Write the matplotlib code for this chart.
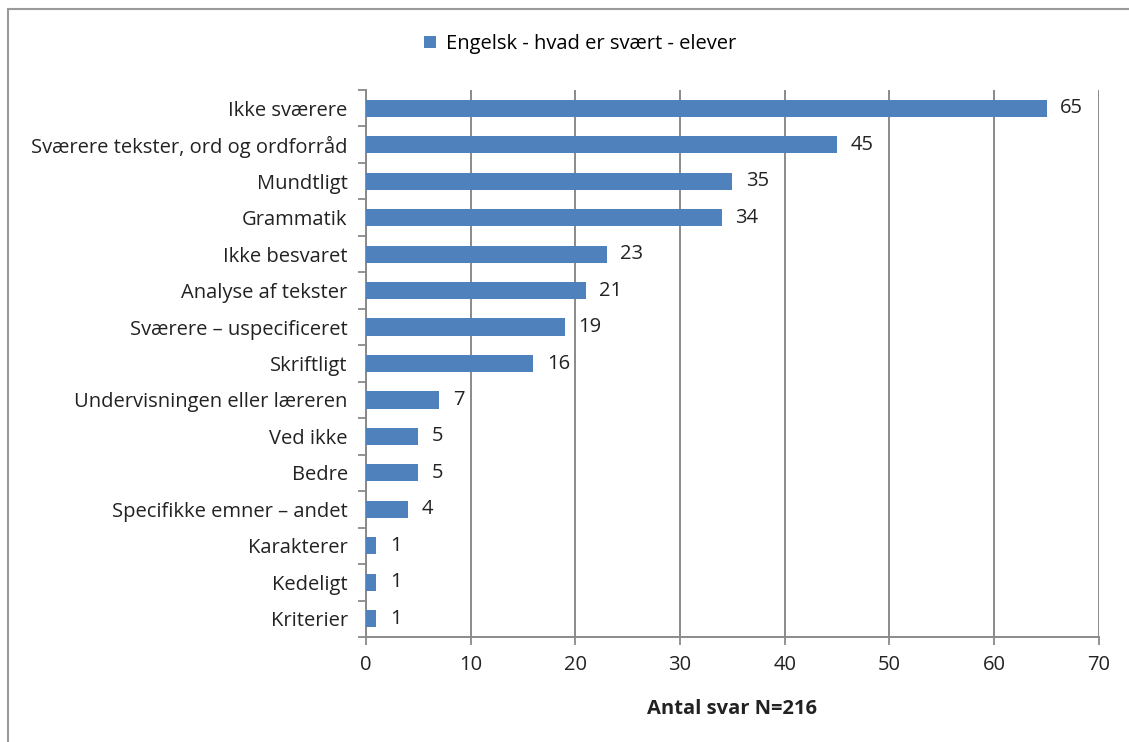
import matplotlib.pyplot as plt
from matplotlib.patches import Rectangle

categories = [
    "Ikke sværere",
    "Sværere tekster, ord og ordforråd",
    "Mundtligt",
    "Grammatik",
    "Ikke besvaret",
    "Analyse af tekster",
    "Sværere – uspecificeret",
    "Skriftligt",
    "Undervisningen eller læreren",
    "Ved ikke",
    "Bedre",
    "Specifikke emner – andet",
    "Karakterer",
    "Kedeligt",
    "Kriterier",
]
counts = [65, 45, 35, 34, 23, 21, 19, 16, 7, 5, 5, 4, 1, 1, 1]
xticks = [0, 10, 20, 30, 40, 50, 60, 70]

plt.rcParams["font.family"] = ["Open Sans", "DejaVu Sans"]
grey = "#8a8a8a"
blue = "#4f81bd"
fs = 14.5

fig = plt.figure(figsize=(11.29, 7.42), dpi=100)
ax = fig.add_axes([0.324, 0.1415, 0.6494, 0.7372])

# outer chart border (left and top edges visible)
fig.patches.append(Rectangle((8 / 1129, -0.1), 1.2, 1 - 9 / 742 + 0.1,
                             transform=fig.transFigure, fill=False,
                             edgecolor="#9a9a9a", linewidth=1.5))

y = list(range(len(categories)))
bars = ax.barh(y, counts, height=0.47, color=blue,
               label="Engelsk - hvad er svært - elever", zorder=3)
for yi, v in zip(y, counts):
    ax.text(v + 1.3, yi, str(v), va="center", ha="left", fontsize=fs,
            color="#222222")

ax.set_ylim(len(categories) - 0.5, -0.5)
ax.set_xlim(0, 70)
# tick marks between categories, labels centred on the bars
ax.set_yticks([i - 0.5 for i in range(len(categories) + 1)])
ax.set_yticklabels([])
ax.set_yticks(y, minor=True)
ax.set_yticklabels(categories, minor=True, fontsize=fs, color="#222222")
ax.tick_params(axis="y", which="minor", length=0, pad=13)
ax.tick_params(axis="y", which="major", length=6, color=grey, width=1.3)
ax.set_xticks(xticks)
ax.tick_params(axis="x", length=6, color=grey, width=1.3, labelsize=fs,
               labelcolor="#222222", pad=7)

ax.grid(axis="x", color=grey, linewidth=1.4, zorder=0)
for s in ["top", "right"]:
    ax.spines[s].set_visible(False)
for s in ["left", "bottom"]:
    ax.spines[s].set_color(grey)
    ax.spines[s].set_linewidth(1.4)

ax.set_xlabel("Antal svar N=216", fontsize=fs, fontweight="bold",
              color="#222222", labelpad=17)

fig.legend(handles=[bars], loc="center", bbox_to_anchor=(580 / 1129, 1 - 44 / 742),
           frameon=False, fontsize=fs, handlelength=0.6, handleheight=0.6,
           handletextpad=0.5)

fig.savefig("out.png", dpi=100)
